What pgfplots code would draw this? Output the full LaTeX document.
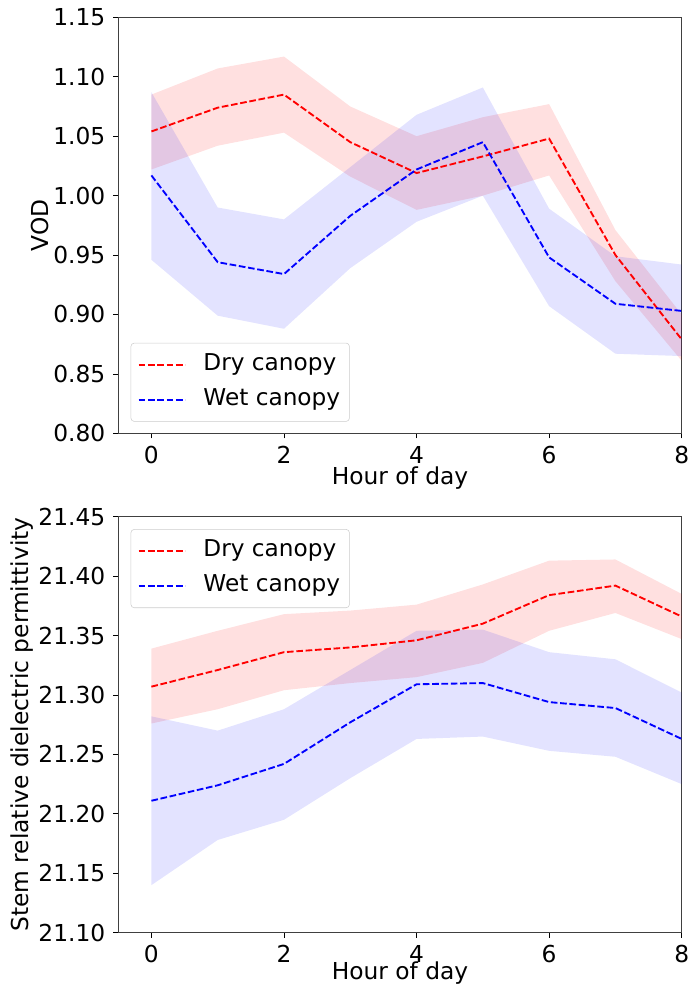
\documentclass[border=0pt]{standalone}
\usepackage{pgfplots}
\pgfplotsset{compat=1.18}
\usepackage{pgfplotstable}
\usepackage{fontspec}
\setmainfont{DejaVu Sans}

% VOD: mean lines
\pgfplotstableread{
x dry wet
0 1.054 1.017
1 1.074 0.944
2 1.085 0.934
3 1.045 0.983
4 1.019 1.022
5 1.033 1.045
6 1.048 0.948
7 0.950 0.909
8 0.879 0.903
}\vodtab
% VOD bands: upper edge (0..8) then lower edge (8..0)
\pgfplotstableread{
x dry wet
0 1.085 1.087
1 1.107 0.990
2 1.117 0.980
3 1.075 1.024
4 1.050 1.068
5 1.066 1.091
6 1.077 0.989
7 0.971 0.949
8 0.900 0.942
8 0.861 0.865
7 0.928 0.867
6 1.017 0.907
5 1.000 1.000
4 0.988 0.978
3 1.016 0.939
2 1.053 0.888
1 1.042 0.899
0 1.022 0.946
}\vodband

\pgfplotstableread{
x dry wet
0 21.307 21.211
1 21.321 21.224
2 21.336 21.242
3 21.340 21.277
4 21.346 21.309
5 21.360 21.310
6 21.384 21.294
7 21.392 21.289
8 21.366 21.263
}\epstab
\pgfplotstableread{
x dry wet
0 21.339 21.282
1 21.354 21.270
2 21.368 21.288
3 21.371 21.321
4 21.376 21.354
5 21.393 21.355
6 21.413 21.336
7 21.414 21.330
8 21.385 21.302
8 21.347 21.225
7 21.369 21.248
6 21.354 21.253
5 21.327 21.265
4 21.315 21.263
3 21.310 21.230
2 21.304 21.195
1 21.288 21.178
0 21.276 21.140
}\epsband

\pgfplotsset{
  legend image code/.code={\draw[#1] (0pt,0pt) -- (35pt,0pt);},
  myaxis/.style={
    scale only axis, width=422.6pt, height=312pt,
    xmin=-0.5, xmax=8, xtick={0,2,4,6,8},
    tick align=outside, tick pos=left, major tick length=3.75pt,
    every tick/.style={black, line width=0.6pt},
    axis line style={black!75, line width=0.6pt},
    /pgf/number format/assume math mode=true,
    tick label style={font=\fontsize{17.5}{21}\selectfont, inner sep=5.8pt},
    xticklabel style={inner ysep=2pt, yshift=-3.8pt},
    label style={font=\fontsize{17.5}{21}\selectfont, text height=0.75em, text depth=0.25em, inner sep=0pt},
    yticklabel style={/pgf/number format/fixed, /pgf/number format/fixed zerofill, /pgf/number format/precision=2},
    scaled y ticks=false,
    xlabel={Hour of day},
    legend cell align=left,
    legend style={draw=black!20, rounded corners=2.5pt, fill=white, fill opacity=0.8, text opacity=1,
      font=\fontsize{17.4}{21}\selectfont, inner xsep=5pt, inner ysep=5.5pt, row sep=4.75pt,
      nodes={inner sep=2pt, text height=13pt, text depth=4.5pt},
      /tikz/every odd column/.append style={column sep=11pt}},
  },
  dryline/.style={red, dash pattern=on 5pt off 2pt, line width=1.4pt},
  wetline/.style={blue, dash pattern=on 5pt off 2pt, line width=1.4pt},
}

\begin{document}
\begin{tikzpicture}
\path[use as bounding box] (0pt,0pt) rectangle (516.75pt,-742.5pt);

\begin{axis}[myaxis, at={(88.7pt,-325pt)}, anchor=south west,
  ymin=0.80, ymax=1.15, ytick={0.80,0.85,0.90,0.95,1.00,1.05,1.10,1.15},
  ylabel={VOD},
  ylabel style={at={(axis description cs:-0.1303,0.5)}, anchor=center},
  xlabel style={at={(axis description cs:0.5,-0.116)}, anchor=center},
  legend style={at={(0.022,0.028)}, anchor=south west}]
  \addplot[fill=red, fill opacity=0.12, draw=none, forget plot] table[x=x, y=dry] {\vodband};
  \addplot[fill=blue, fill opacity=0.11, draw=none, forget plot] table[x=x, y=wet] {\vodband};
  \addplot[dryline, forget plot] table[x=x, y=dry] {\vodtab};
  \addplot[wetline, forget plot] table[x=x, y=wet] {\vodtab};
  \addlegendimage{dryline}
  \addlegendentry{Dry canopy}
  \addlegendimage{wetline}
  \addlegendentry{Wet canopy}
\end{axis}

\begin{axis}[myaxis, at={(88.7pt,-699.5pt)}, anchor=south west,
  ymin=21.10, ymax=21.45, ytick={21.10,21.15,21.20,21.25,21.30,21.35,21.40,21.45},
  ylabel={Stem relative dielectric permittivity},
  ylabel style={at={(axis description cs:-0.1644,0.5)}, anchor=center},
  xlabel style={at={(axis description cs:0.5,-0.105)}, anchor=center},
  legend style={at={(0.022,0.970)}, anchor=north west}]
  \addplot[fill=red, fill opacity=0.12, draw=none, forget plot] table[x=x, y=dry] {\epsband};
  \addplot[fill=blue, fill opacity=0.11, draw=none, forget plot] table[x=x, y=wet] {\epsband};
  \addplot[dryline, forget plot] table[x=x, y=dry] {\epstab};
  \addplot[wetline, forget plot] table[x=x, y=wet] {\epstab};
  \addlegendimage{dryline}
  \addlegendentry{Dry canopy}
  \addlegendimage{wetline}
  \addlegendentry{Wet canopy}
\end{axis}
\end{tikzpicture}
\end{document}
